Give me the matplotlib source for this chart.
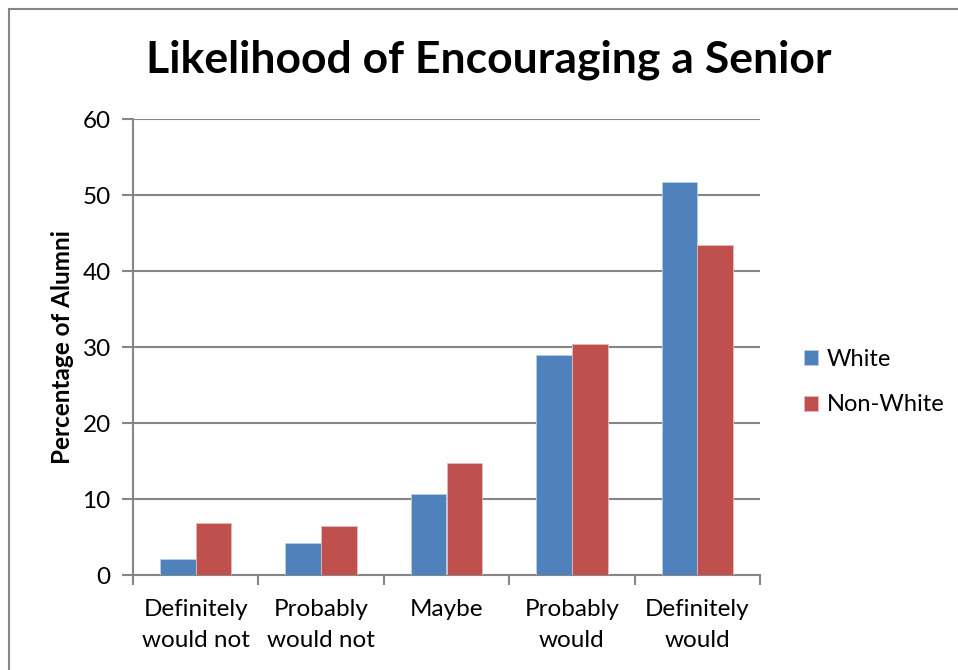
import numpy as np
import matplotlib
matplotlib.use('Agg')
import matplotlib.pyplot as plt
from matplotlib.lines import Line2D

categories = ['Definitely\nwould not', 'Probably\nwould not', 'Maybe',
              'Probably\nwould', 'Definitely\nwould']
white = [2.1, 4.2, 10.6, 28.9, 51.7]
non_white = [6.9, 6.5, 14.8, 30.4, 43.4]
yticks = [0, 10, 20, 30, 40, 50, 60]

blue = '#4F81BD'
red = '#C0504D'
grid_c = '#868686'

plt.rcParams['font.family'] = ['Lato', 'DejaVu Sans']

fig = plt.figure(figsize=(9.58, 6.70), dpi=100)
ax = fig.add_axes([133 / 958, 1 - 575 / 670, 627 / 958, 456 / 670])

# outer chart frame (only left and top edges visible in the reference)
fx, fy = 8.5 / 958, 1 - 8.5 / 670
fig.lines.append(Line2D([fx, fx], [0, fy], transform=fig.transFigure,
                        color=grid_c, linewidth=1.5))
fig.lines.append(Line2D([fx, 1], [fy, fy], transform=fig.transFigure,
                        color=grid_c, linewidth=1.5))

x = np.arange(len(categories))
w = 0.285
ax.bar(x - w / 2, white, w, color=blue, edgecolor='#B9CDE5', linewidth=0.6,
       label='White', zorder=3)
ax.bar(x + w / 2, non_white, w, color=red, edgecolor='#E6B9B8', linewidth=0.6,
       label='Non-White', zorder=3)

ax.set_xlim(-0.5, len(categories) - 0.5)
ax.set_ylim(0, 60)
ax.set_yticks(yticks)
ax.yaxis.grid(True, color=grid_c, linewidth=1.5, zorder=0)
ax.set_axisbelow(True)

# ticks between categories on the x axis
ax.set_xticks(np.arange(len(categories) + 1) - 0.5, minor=False)
ax.set_xticklabels([])
ax.set_xticks(x, minor=True)
ax.set_xticklabels(categories, minor=True, fontsize=17.5, linespacing=1.6)
ax.tick_params(axis='x', which='major', length=7, width=1.5, color=grid_c,
               direction='out')
ax.tick_params(axis='x', which='minor', length=0, pad=17)
ax.tick_params(axis='y', length=8, width=1.5, color=grid_c, labelsize=17.5,
               pad=8)

for side in ['top', 'right']:
    ax.spines[side].set_visible(False)
for side in ['left', 'bottom']:
    ax.spines[side].set_color(grid_c)
    ax.spines[side].set_linewidth(1.5)

ax.set_ylabel('Percentage of Alumni', fontsize=17.5, fontweight='bold',
              labelpad=6)
fig.text(489 / 958, 1 - 60 / 670, 'Likelihood of Encouraging a Senior',
         ha='center', va='center', fontsize=32, fontweight='bold')

fig.legend(loc='center left', bbox_to_anchor=(783 / 958, 1 - 382 / 670),
           frameon=False, fontsize=17, handlelength=0.6, handleheight=0.6,
           handletextpad=0.35, labelspacing=1.05)

plt.savefig('out.png', dpi=100)
